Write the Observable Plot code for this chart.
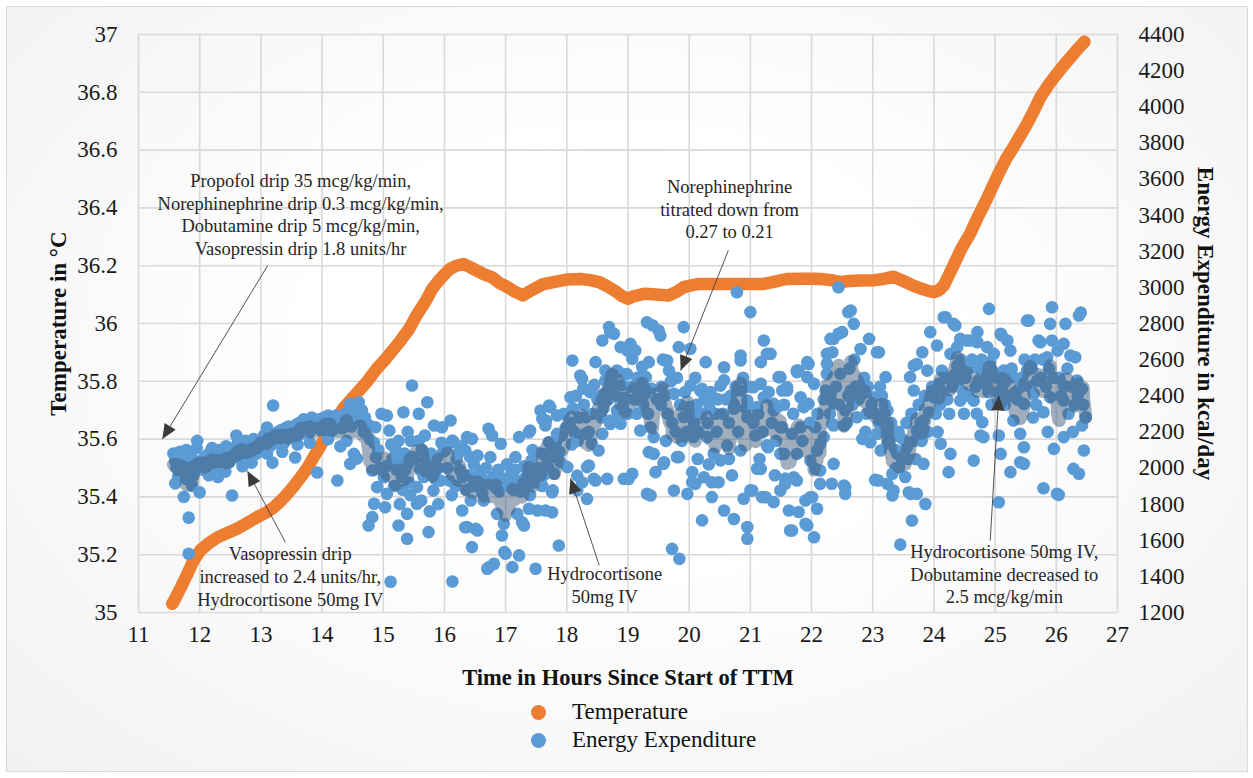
<!DOCTYPE html>
<html><head><meta charset="utf-8">
<script src="https://cdn.jsdelivr.net/npm/d3@7"></script>
<script src="https://cdn.jsdelivr.net/npm/@observablehq/plot@0.6"></script>
<style>
body{margin:0;width:1253px;height:778px;position:relative;overflow:hidden;font-family:"Liberation Serif","Times New Roman",serif;background:#fff}
#frame{position:absolute;left:6px;top:6px;width:1240px;height:764px;border:1.5px solid #d9d9d9;background:radial-gradient(ellipse at 50% 45%,#ffffff 35%,#f1f1f1 100%)}
#chart{position:absolute;left:0;top:0}
#legend{position:absolute;left:531px;top:698px;font-size:23px;color:#111}
.li{display:flex;align-items:center;height:28px}
.sw{width:15px;height:15px;border-radius:50%;margin-right:26px}
</style></head>
<body>
<div id="frame"></div>
<div id="chart"></div>
<div id="legend">
  <div class="li"><span class="sw" style="background:#ED7D31"></span>Temperature</div>
  <div class="li"><span class="sw" style="background:#5B9BD5"></span>Energy Expenditure</div>
</div>
<script>
// ---- axis ticks ----
const hourTicks = [11,12,13,14,15,16,17,18,19,20,21,22,23,24,25,26,27];
const tempTicks = [35,35.2,35.4,35.6,35.8,36,36.2,36.4,36.6,36.8,37];
const energyTicks = [1200,1400,1600,1800,2000,2200,2400,2600,2800,3000,3200,3400,3600,3800,4000,4200,4400];

// ---- temperature series (hours, °C) ----
const tempHours = [11.55,11.58,11.7,11.8,11.9,12.01,12.15,12.29,12.45,12.61,12.78,12.94,13.08,13.21,13.32,13.43,13.55,13.65,13.76,13.86,13.97,14.08,14.22,14.36,14.55,14.74,14.9,15.05,15.28,15.42,15.55,15.7,15.8,15.91,16.0,16.09,16.2,16.31,16.42,16.53,16.65,16.78,16.9,17.03,17.15,17.28,17.38,17.47,17.6,17.78,18.0,18.22,18.38,18.53,18.65,18.78,18.9,19.0,19.1,19.28,19.45,19.66,19.8,19.91,20.05,20.16,20.4,20.59,20.8,21.0,21.22,21.4,21.59,21.8,22.0,22.16,22.32,22.47,22.62,22.78,23.03,23.2,23.34,23.5,23.66,23.8,23.92,24.0,24.08,24.16,24.25,24.34,24.45,24.59,24.72,24.84,24.95,25.06,25.18,25.3,25.41,25.52,25.63,25.74,25.87,26.01,26.12,26.23,26.35,26.46];
const tempC = [35.03,35.04,35.09,35.134,35.18,35.215,35.24,35.26,35.275,35.29,35.31,35.33,35.345,35.364,35.385,35.41,35.44,35.468,35.5,35.537,35.575,35.618,35.665,35.71,35.755,35.8,35.845,35.88,35.94,35.98,36.03,36.08,36.12,36.149,36.17,36.189,36.2,36.206,36.195,36.183,36.17,36.16,36.14,36.126,36.11,36.097,36.11,36.12,36.135,36.143,36.152,36.154,36.15,36.143,36.13,36.114,36.095,36.086,36.095,36.103,36.1,36.097,36.11,36.126,36.133,36.137,36.137,36.137,36.137,36.137,36.137,36.145,36.154,36.155,36.155,36.154,36.15,36.143,36.147,36.149,36.15,36.155,36.162,36.147,36.131,36.12,36.112,36.109,36.115,36.131,36.17,36.21,36.26,36.31,36.37,36.42,36.47,36.52,36.57,36.61,36.65,36.69,36.735,36.783,36.825,36.864,36.893,36.92,36.95,36.975];

// ---- energy expenditure readings [hours, kcal/day] ----
const energyEarly = [
[11.57,2080],[11.6,2040],[11.62,2000],[11.65,2060],[11.68,2090],[11.7,2020],[11.72,1980],[11.75,2050],[11.78,2100],[11.8,2030],[11.82,1990],[11.85,2070],[11.88,2010],[11.9,1960],[11.92,2040],[11.95,2110],[11.97,2000],[11.6,1915],[11.74,1840],[11.82,1725],[11.82,1525],[11.65,1950],[11.88,1900],[11.78,1940],[11.96,2150],
[12.0,1865],[12.02,2030],[12.05,1990],[12.08,2060],[12.1,2010],[12.12,2040],[12.15,2080],[12.18,2020],[12.2,2050],[12.22,1990],[12.25,2070],[12.28,2030],[12.3,2100],[12.33,2050],[12.35,2010],[12.38,2080],[12.4,2040],[12.43,2120],[12.45,2060],[12.48,2030],[12.15,1960],[12.3,1950],[12.42,1980],[12.2,2110],
[12.5,2090],[12.53,1848],[12.55,2060],[12.58,2110],[12.6,2070],[12.62,2140],[12.65,2090],[12.68,2050],[12.7,2120],[12.73,2080],[12.75,2150],[12.78,2100],[12.8,2060],[12.83,2130],[12.85,2090],[12.88,2160],[12.9,2110],[12.93,2080],[12.95,2140],[12.98,2120],[12.6,2180],[12.7,2010],[12.85,2030],
[13.0,2150],[13.03,2110],[13.05,2180],[13.08,2130],[13.1,2224],[13.13,2160],[13.15,2120],[13.18,2190],[13.19,2030],[13.2,2346],[13.22,2170],[13.25,2140],[13.28,2200],[13.3,2160],[13.33,2210],[13.35,2180],[13.38,2140],[13.4,2220],[13.43,2190],[13.45,2230],[13.48,2170],[13.1,2080],[13.35,2090],
[13.5,2210],[13.53,2180],[13.56,2058],[13.58,2240],[13.6,2200],[13.63,2250],[13.65,2190],[13.68,2230],[13.7,2270],[13.73,2210],[13.75,2250],[13.78,2190],[13.8,2240],[13.83,2280],[13.85,2220],[13.88,2260],[13.9,2230],[13.92,1975],[13.95,2270],[13.98,2210],[13.6,2130],[13.8,2140],
[14.0,2250],[14.03,2280],[14.05,2220],[14.08,2260],[14.1,2290],[14.13,2230],[14.15,2270],[14.18,2210],[14.2,2250],[14.23,2290],[14.25,1931],[14.27,2240],[14.3,2280],[14.33,2220],[14.35,2260],[14.38,2300],[14.4,2240],[14.43,2270],[14.45,2310],[14.48,2230],[14.1,2160],[14.3,2120],[14.4,2150],
[14.46,2355],[14.6,2364],[14.38,2254],[14.63,2254],[14.74,2244],[14.52,2078],[14.46,2023],[14.82,1986],[14.9,1894],[14.85,1802],[14.82,1728],[14.76,1682],[14.55,2300],[14.65,2320],[14.7,2280],[14.8,2230],[14.85,2140],[14.88,2060],[14.92,2100],[14.95,2000],[14.57,2052],[14.68,2200],[14.78,2160],[14.97,2300],[14.87,2226]
];
const energyMid = [
[15.01,1949],[15.06,1857],[15.03,1783],[15.06,2290],[15.1,2208],[15.12,1370],[15.25,1682],[15.39,1608],[15.39,1746],[15.33,2309],[15.47,2457],[15.2,2100],[15.15,2050],[15.22,1990],[15.28,2040],[15.3,1950],[15.35,2080],[15.4,2020],[15.42,1920],[15.45,2150],[15.48,2060],[15.18,1900],[15.25,2150],[15.32,1880],[15.36,1990],[15.44,1850],[15.05,2010],[15.13,2130],[15.4,2200],[15.27,1800],
[15.55,1802],[15.55,1894],[15.58,2300],[15.72,2364],[15.74,1645],[15.82,1875],[15.83,2235],[15.96,2226],[15.52,2050],[15.6,1990],[15.63,2100],[15.66,1950],[15.7,2040],[15.75,1980],[15.78,2080],[15.8,2020],[15.85,1940],[15.88,2060],[15.9,2000],[15.93,1930],[15.98,2090],[15.68,2180],[15.62,1820],[15.76,1760],[15.9,1800],[15.58,2150],[15.95,2140],
[16.1,2263],[16.13,2152],[16.15,2143],[16.37,2171],[16.34,2097],[16.13,1372],[16.29,1765],[16.43,1820],[16.34,1672],[16.45,1562],[16.37,1673],[16.45,2161],[16.2,2050],[16.25,1990],[16.3,1950],[16.05,2000],[16.08,1930],[16.18,1900],[16.22,2080],[16.4,1960],[16.48,2020],[16.12,1850],[16.28,2120],[16.35,1880],[16.42,2060],[16.02,2100],[16.47,1900],
[16.51,1663],[16.54,1654],[16.54,2069],[16.59,1894],[16.64,1820],[16.7,1442],[16.72,2217],[16.73,1451],[16.75,2060],[16.78,2180],[16.81,1470],[16.86,1746],[16.92,2134],[16.94,1626],[16.97,1691],[16.98,1534],[16.6,1980],[16.65,1930],[16.68,2000],[16.8,1950],[16.84,1890],[16.88,1990],[16.9,1870],[16.96,1940],[16.56,1960],[16.62,1860],[16.77,1910],
[17.0,1525],[17.11,1451],[17.19,1746],[17.22,1516],[17.22,2171],[17.27,1700],[17.3,1682],[17.38,2198],[17.38,1774],[17.4,2208],[17.49,1442],[17.05,1900],[17.08,1960],[17.12,1880],[17.15,1990],[17.18,1930],[17.25,1870],[17.3,2010],[17.33,1950],[17.36,1900],[17.42,2040],[17.45,1980],[17.47,1920],[17.02,2020],[17.16,2060],[17.4,1850],[17.44,2100],
[17.52,1765],[17.57,2318],[17.6,2272],[17.65,2235],[17.66,2263],[17.65,1765],[17.71,2346],[17.71,2143],[17.73,2337],[17.76,1755],[17.76,1866],[17.77,1876],[17.79,1968],[17.84,2291],[17.84,2189],[17.87,1571],[17.9,2032],[17.95,2300],[17.55,2000],[17.58,2080],[17.62,1960],[17.68,2050],[17.7,2000],[17.75,2100],[17.8,2060],[17.82,2140],[17.88,2090],[17.92,2180],[17.98,2220],[17.6,1900],
[18.01,2005],[18.06,2392],[18.09,2595],[18.17,1876],[18.17,1958],[18.22,2512],[18.25,2493],[18.25,1921],[18.3,2189],[18.31,2281],[18.33,1829],[18.33,2005],[18.36,2014],[18.36,2200],[18.41,2134],[18.44,1940],[18.47,2586],[18.47,1931],[18.05,2250],[18.1,2330],[18.12,2200],[18.15,2400],[18.2,2280],[18.28,2350],[18.38,2420],[18.42,2300],[18.45,2460],[18.5,2380],[18.18,2150],[18.08,2130],[18.27,2440],
[18.52,2097],[18.58,2706],[18.58,2189],[18.63,2540],[18.63,2484],[18.66,1940],[18.69,2780],[18.71,2752],[18.71,2244],[18.72,2263],[18.77,2743],[18.82,2540],[18.82,2318],[18.85,2254],[18.85,2531],[18.88,2669],[18.88,2245],[18.93,1940],[18.99,2650],[18.99,2300],[18.55,2400],[18.6,2330],[18.65,2420],[18.68,2380],[18.75,2450],[18.8,2400],[18.9,2460],[18.95,2390],[18.57,2280],[18.74,2500],[18.92,2350],[18.98,2520],
[19.01,1940],[19.04,2687],[19.07,2604],[19.07,1968],[19.12,2650],[19.2,2208],[19.29,2503],[19.31,2807],[19.31,1857],[19.34,2586],[19.34,2088],[19.37,2226],[19.37,1848],[19.42,2078],[19.42,2171],[19.45,1977],[19.5,2761],[19.4,2790],[19.05,2450],[19.1,2380],[19.15,2500],[19.18,2420],[19.22,2470],[19.25,2350],[19.28,2410],[19.33,2300],[19.38,2440],[19.47,2380],[19.14,2300],[19.23,2560]
];
const energyLate = [
[19.53,2733],[19.58,2023],[19.59,2032],[19.61,2595],[19.64,2595],[19.67,2540],[19.72,1552],[19.75,1875],[19.75,2411],[19.8,2060],[19.83,2669],[19.83,2060],[19.84,1497],[19.91,2780],[19.91,2282],[19.97,1857],[19.99,2337],[19.55,2450],[19.6,2400],[19.65,2300],[19.7,2480],[19.72,2250],[19.78,2200],[19.85,2350],[19.88,2150],[19.93,2420],[19.96,2200],[19.57,2600],[19.62,2150],[19.8,2500],[19.54,2350],
[20.02,2660],[20.02,2456],[20.05,1921],[20.05,1977],[20.07,2171],[20.1,1912],[20.18,2429],[20.21,1710],[20.21,2438],[20.24,1949],[20.27,2586],[20.29,2171],[20.37,1839],[20.37,1921],[20.4,2383],[20.4,2079],[20.48,1921],[20.03,2300],[20.08,2250],[20.12,2350],[20.15,2200],[20.2,2300],[20.25,2380],[20.3,2250],[20.33,2330],[20.35,2420],[20.43,2300],[20.45,2200],[20.47,2380],[20.14,2050],[20.32,2020],[20.1,2500],
[20.51,2042],[20.51,2456],[20.57,2485],[20.57,2558],[20.57,1765],[20.62,2125],[20.7,1959],[20.73,1718],[20.73,2328],[20.73,2355],[20.78,2973],[20.84,2595],[20.84,2623],[20.84,2097],[20.84,2429],[20.89,1830],[20.95,1673],[20.95,1608],[20.95,2374],[20.95,2281],[21.0,2863],[21.0,1876],[20.55,2300],[20.6,2380],[20.65,2250],[20.68,2400],[20.76,2450],[20.8,2200],[20.88,2500],[20.92,2330],[20.65,2050],[20.98,2450],
[21.03,1875],[21.05,2447],[21.11,1996],[21.11,2337],[21.17,2586],[21.17,2466],[21.17,1995],[21.19,1839],[21.22,2706],[21.22,2392],[21.25,1838],[21.27,2632],[21.27,2125],[21.29,2115],[21.33,2632],[21.38,1811],[21.38,2355],[21.38,2318],[21.44,2337],[21.46,2503],[21.49,2078],[21.49,2226],[21.49,2503],[21.49,1875],[21.05,2250],[21.08,2180],[21.13,2300],[21.2,2200],[21.3,2420],[21.35,2250],[21.42,2150],[21.15,2050],[21.4,1960],
[21.52,2429],[21.52,2226],[21.55,2078],[21.57,1941],[21.57,1912],[21.6,2429],[21.6,2447],[21.63,1765],[21.65,1654],[21.68,1654],[21.68,2189],[21.71,1949],[21.76,2540],[21.76,2531],[21.76,2078],[21.76,1931],[21.79,2539],[21.79,1756],[21.82,2392],[21.82,2226],[21.87,2337],[21.9,1691],[21.9,1820],[21.93,2586],[21.93,2503],[21.93,1682],[21.95,2576],[21.95,2355],[21.98,1838],[21.98,2041],[21.55,2350],[21.7,2300],[21.85,2150],[21.97,2250],
[22.01,1838],[22.04,1617],[22.04,2466],[22.06,2226],[22.06,1996],[22.09,1774],[22.09,2097],[22.14,1912],[22.14,1986],[22.14,2134],[22.2,2171],[22.23,2429],[22.25,2632],[22.25,2577],[22.25,2521],[22.31,2401],[22.31,2715],[22.33,1913],[22.34,2244],[22.34,2641],[22.36,2023],[22.36,2715],[22.36,2355],[22.36,2235],[22.44,3001],[22.44,2743],[22.47,2521],[22.5,2752],[22.1,2300],[22.2,2380],[22.3,2300],[22.4,2450],[22.45,2350],
[22.53,2235],[22.53,1903],[22.55,1894],[22.55,2318],[22.55,1857],[22.6,2862],[22.64,2872],[22.64,2429],[22.69,2798],[22.74,2281],[22.8,2456],[22.8,2659],[22.83,2410],[22.83,2161],[22.94,2715],[22.96,2143],[22.6,2400],[22.62,2550],[22.67,2350],[22.7,2600],[22.72,2450],[22.77,2380],[22.86,2500],[22.9,2300],[22.92,2450],[22.98,2350],[22.58,2250],[22.88,2200],
[23.02,2392],[23.04,1934],[23.07,2641],[23.07,2189],[23.09,1931],[23.1,2641],[23.13,2097],[23.15,2281],[23.21,2503],[23.24,2318],[23.24,2134],[23.24,1912],[23.32,1968],[23.32,1848],[23.34,2207],[23.34,1875],[23.4,2078],[23.43,2004],[23.45,2171],[23.45,1576],[23.05,2300],[23.1,2250],[23.15,2400],[23.18,2200],[23.2,2350],[23.27,2150],[23.3,2250],[23.37,2100],[23.42,2200],[23.48,2050],[23.38,2000],[23.12,2450],
[23.56,2115],[23.59,1866],[23.61,2503],[23.62,1857],[23.64,1709],[23.67,2429],[23.67,2567],[23.72,2207],[23.72,2576],[23.72,1857],[23.81,2641],[23.83,2263],[23.83,2023],[23.86,1801],[23.89,2539],[23.92,2309],[23.94,2752],[23.52,2150],[23.55,2250],[23.58,2050],[23.63,2300],[23.68,2150],[23.75,2350],[23.78,2250],[23.85,2400],[23.9,2200],[23.97,2450],[23.7,2050],[23.8,2150],[23.53,1950],
[24.0,2392],[24.05,2678],[24.08,2466],[24.11,2134],[24.13,2539],[24.16,2835],[24.19,2835],[24.24,1977],[24.27,2632],[24.27,2078],[24.32,2798],[24.35,2789],[24.38,2567],[24.38,2669],[24.43,2715],[24.43,2373],[24.49,2300],[24.03,2300],[24.06,2200],[24.1,2350],[24.15,2420],[24.2,2500],[24.22,2380],[24.3,2450],[24.35,2520],[24.4,2480],[24.46,2550],[24.48,2420],[24.25,2300],[24.44,2600],
[24.54,2706],[24.6,2706],[24.65,2373],[24.65,2041],[24.71,2752],[24.71,2696],[24.73,2484],[24.76,2180],[24.79,2253],[24.81,2171],[24.87,2669],[24.87,2456],[24.9,2881],[24.92,2586],[24.98,2632],[24.52,2500],[24.57,2550],[24.62,2600],[24.68,2450],[24.75,2550],[24.78,2600],[24.84,2500],[24.89,2420],[24.95,2540],[24.56,2400],[24.7,2300],[24.94,2350],
[25.06,2180],[25.06,1810],[25.09,2743],[25.09,2392],[25.09,2078],[25.11,2733],[25.14,2539],[25.2,2706],[25.25,2650],[25.25,1977],[25.3,2503],[25.3,2263],[25.41,2447],[25.41,2189],[25.41,2032],[25.47,2355],[25.47,2115],[25.47,2023],[25.03,2500],[25.04,2420],[25.12,2450],[25.17,2480],[25.22,2400],[25.27,2550],[25.33,2420],[25.36,2380],[25.44,2500],[25.48,2600],[25.16,2350],
[25.52,2816],[25.52,2539],[25.55,2816],[25.63,2410],[25.69,2484],[25.71,2706],[25.74,2696],[25.79,2309],[25.79,1888],[25.85,2613],[25.9,2798],[25.9,2392],[25.93,2890],[25.93,2706],[25.96,2106],[25.57,2450],[25.6,2550],[25.65,2600],[25.67,2350],[25.75,2500],[25.78,2600],[25.83,2450],[25.88,2550],[25.95,2500],[25.62,2280],[25.86,2200],
[26.01,1857],[26.04,1851],[26.12,2171],[26.12,2373],[26.12,2456],[26.12,2687],[26.15,2798],[26.23,2623],[26.28,1995],[26.31,2613],[26.34,2484],[26.37,1968],[26.37,2844],[26.42,2235],[26.42,2438],[26.45,2097],[26.48,2281],[26.4,2860],[26.05,2500],[26.08,2400],[26.18,2550],[26.2,2300],[26.25,2450],[26.3,2350],[26.35,2400],[26.44,2350],[26.02,2650],[26.27,2200]
];

// ---- annotations ----
const noteText = [
  "Propofol drip 35 mcg/kg/min,\nNorephinephrine drip 0.3 mcg/kg/min,\nDobutamine drip 5 mcg/kg/min,\nVasopressin drip 1.8 units/hr",
  "Vasopressin drip\nincreased to 2.4 units/hr,\nHydrocortisone 50mg IV",
  "Hydrocortisone\n50mg IV",
  "Norephinephrine\ntitrated down from\n0.27 to 0.21",
  "Hydrocortisone 50mg IV,\nDobutamine decreased to\n2.5 mcg/kg/min"
];
const noteHour = [13.65, 13.48, 18.62, 20.66, 25.15];
const noteTemp = [36.38, 35.127, 35.097, 36.398, 35.135];
const arrowFromHour = [13.11, 13.4, 18.53, 20.64, 24.92];
const arrowFromTemp = [36.2, 35.243, 35.163, 36.253, 35.249];
const arrowToHour = [11.39, 12.78, 18.06, 19.86, 25.06];
const arrowToTemp = [35.6, 35.49, 35.464, 35.837, 35.751];

// ---- build tables ----
const toTempScale = e => 35 + (e - 1200) / 1600;   // right axis (kcal) mapped onto left axis (°C)
const fromTempScale = v => 1200 + (v - 35) * 1600;
const temp = tempHours.map((h, i) => ({h, c: tempC[i]}));
const energy = [...energyEarly, ...energyMid, ...energyLate].map(([h, e]) => ({h, e}));
const energySorted = energy.slice().sort((a, b) => a.h - b.h);
const notes = noteText.map((t, i) => ({t, x: noteHour[i], y: noteTemp[i]}));
const arrows = arrowFromHour.map((x1, i) => ({x1, y1: arrowFromTemp[i], x2: arrowToHour[i], y2: arrowToTemp[i]}));

function headMarker(color, context) {
  const doc = (context && context.document) || document;
  const ns = "http://www.w3.org/2000/svg";
  const m = doc.createElementNS(ns, "marker");
  m.setAttribute("viewBox", "-16 -8 17 16");
  m.setAttribute("markerWidth", 17);
  m.setAttribute("markerHeight", 16);
  m.setAttribute("markerUnits", "userSpaceOnUse");
  m.setAttribute("orient", "auto");
  const p = doc.createElementNS(ns, "path");
  p.setAttribute("d", "M0,0L-15,-6.5L-15,6.5Z");
  p.setAttribute("fill", "#3a3a3a");
  p.setAttribute("stroke", "none");
  m.appendChild(p);
  return m;
}

const gridStyle = {stroke: "#d9d9d9", strokeOpacity: 1, strokeWidth: 1.6};
const chart = Plot.plot({
  width: 1253,
  height: 692,
  marginLeft: 138,
  marginRight: 136,
  marginTop: 34,
  marginBottom: 80,
  style: {background: "transparent", fontFamily: "'Liberation Serif','Times New Roman',serif", fontSize: "23px", color: "#1a1a1a", overflow: "visible"},
  x: {domain: [11, 27]},
  y: {domain: [35, 37]},
  marks: [
    Plot.gridX(hourTicks, gridStyle),
    Plot.gridY(tempTicks, gridStyle),
    Plot.axisX(hourTicks, {tickSize: 0, tickPadding: 13, label: null, fontSize: 23}),
    Plot.axisY(tempTicks, {anchor: "left", tickSize: 0, tickPadding: 21, label: null, fontSize: 23, tickFormat: d => String(+d.toFixed(1))}),
    Plot.axisY(energyTicks.map(toTempScale), {anchor: "right", tickSize: 0, tickPadding: 21, label: null, fontSize: 23, tickFormat: v => String(Math.round(fromTempScale(v)))}),
    Plot.line(temp, {x: "h", y: "c", stroke: "#ED7D31", strokeWidth: 12.5, strokeLinecap: "round", strokeLinejoin: "round"}),
    Plot.dot(energy, {x: "h", y: d => toTempScale(d.e), r: 6.3, fill: "#5B9BD5"}),
    Plot.line(energySorted, Plot.windowY({k: 9, anchor: "middle"}, {x: "h", y: d => toTempScale(d.e), stroke: "#425d7c", strokeOpacity: 0.5, strokeWidth: 13, strokeLinejoin: "round", strokeLinecap: "round"})),
    Plot.link(arrows, {x1: "x1", y1: "y1", x2: "x2", y2: "y2", stroke: "#404040", strokeWidth: 0.9, markerEnd: headMarker}),
    Plot.text(notes, {x: "x", y: "y", text: "t", fontSize: 18.5, lineHeight: 1.22, lineAnchor: "middle", fill: "#262626"}),
    Plot.text(["Temperature in °C"], {frameAnchor: "left", textAnchor: "middle", rotate: -90, dx: -80, fontSize: 23, fontWeight: "bold", fill: "#111"}),
    Plot.text(["Energy Expenditure in kcal/day"], {frameAnchor: "right", textAnchor: "middle", rotate: 90, dx: 88, fontSize: 23, fontWeight: "bold", fill: "#111"}),
    Plot.text(["Time in Hours Since Start of TTM"], {frameAnchor: "bottom", dy: 65, lineAnchor: "middle", fontSize: 22.5, fontWeight: "bold", fill: "#111"})
  ]
});
document.getElementById("chart").appendChild(chart);
</script>
</body></html>
